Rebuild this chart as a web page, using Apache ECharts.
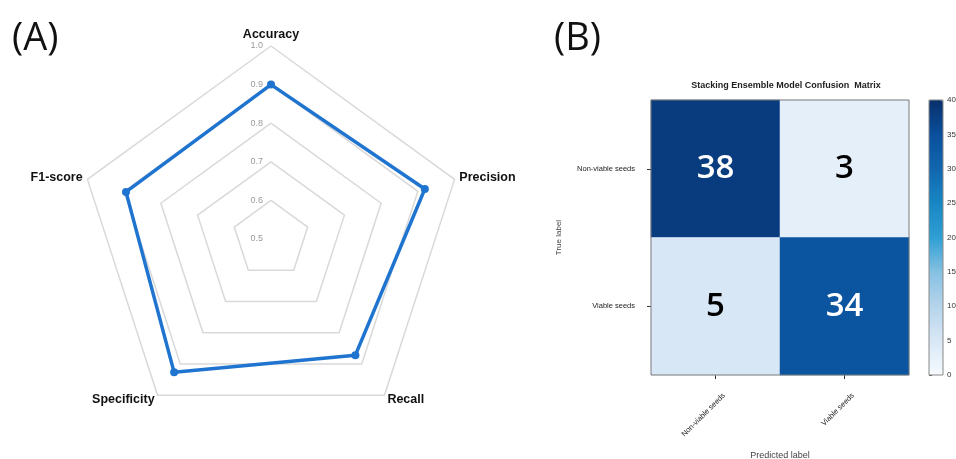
<!DOCTYPE html>
<html>
<head>
<meta charset="utf-8">
<script src="https://cdn.jsdelivr.net/npm/echarts@6/dist/echarts.min.js"></script>
<style>
  html, body { margin: 0; padding: 0; background: #ffffff; }
  #chart { width: 956px; height: 459px; }
</style>
</head>
<body>
<div id="chart"></div>
<script>
// Panel A: model evaluation metrics (radar, listed counter-clockwise from the top)
const metricNames = ['Accuracy', 'F1-score', 'Specificity', 'Recall', 'Precision'];
const metricValues = [0.90, 0.895, 0.927, 0.872, 0.919];
const radarMin = 0.5;
const radarMax = 1.0;
const radarSteps = 5;

// Panel B: confusion matrix (rows = true label, columns = predicted label)
const predictedLabels = ['Non-viable seeds', 'Viable seeds'];
const trueLabels = ['Non-viable seeds', 'Viable seeds'];
const confusionCounts = [
  [38, 3],
  [5, 34]
];
const colorbarMin = 0;
const colorbarMax = 40;
const colorbarStep = 5;

// Blues-like colour ramp used for the heatmap and its colour bar
const bluesRamp = ['#f6fafe', '#d8e7f5', '#b5d4eb', '#86c0e2', '#2e9fd4',
                   '#1886c4', '#1167af', '#0a4f9c', '#08306b'];

const sansFont = '"Liberation Sans", Arial, sans-serif';

const heatData = [];
confusionCounts.forEach(function (row, r) {
  row.forEach(function (v, c) {
    heatData.push({
      value: [c, r, v],
      label: { color: v > (colorbarMax - colorbarMin) / 2 ? '#ffffff' : '#000000' }
    });
  });
});

const chart = echarts.init(document.getElementById('chart'));

chart.setOption({
  backgroundColor: '#ffffff',
  animation: false,
  graphic: [
    { type: 'text', x: 12, y: 39,
      style: { text: '(A)', font: '38px "Open Sans", sans-serif', fill: '#111',
               textVerticalAlign: 'middle' } },
    { type: 'text', x: 554, y: 39,
      style: { text: '(B)', font: '38px "Open Sans", sans-serif', fill: '#111',
               textVerticalAlign: 'middle' } },
    { type: 'text', x: 786, y: 86,
      style: { text: 'Stacking Ensemble Model Confusion  Matrix',
               font: 'bold 9px ' + sansFont, fill: '#222',
               textAlign: 'center', textVerticalAlign: 'middle' } }
  ],
  radar: {
    center: [271, 239],
    radius: 193,
    startAngle: 90,
    splitNumber: radarSteps,
    shape: 'polygon',
    axisNameGap: 5,
    nameGap: 5,
    axisName: { color: '#111', fontWeight: 'bold', fontSize: 12.5, fontFamily: sansFont },
    axisLine: { show: false },
    axisTick: { show: false },
    axisLabel: { show: false },
    splitArea: { show: false },
    splitLine: { lineStyle: { color: '#d9d9d9', width: 1.5 } },
    indicator: metricNames.map(function (name, i) {
      const ind = { name: name, min: radarMin, max: radarMax };
      if (i === 0) {
        ind.axisLabel = {
          show: true, color: '#9a9a9a', fontSize: 9, fontFamily: sansFont,
          margin: 8,
          formatter: function (v) { return Number(v).toFixed(1); }
        };
      }
      return ind;
    })
  },
  grid: [
    { left: 651, top: 100, width: 258, height: 275, show: true,
      outerBoundsMode: 'none', containLabel: false,
      borderColor: '#7a7a7a', borderWidth: 1, backgroundColor: 'transparent', z: 3 },
    { left: 929, top: 100, width: 14, height: 275, show: true,
      outerBoundsMode: 'none', containLabel: false,
      borderColor: '#888888', borderWidth: 1, backgroundColor: 'transparent', z: 6 }
  ],
  xAxis: [
    {
      gridIndex: 0, type: 'category', data: predictedLabels, position: 'bottom',
      axisLine: { show: false },
      axisTick: { show: true, alignWithLabel: true, length: 4, lineStyle: { color: '#333' } },
      axisLabel: { rotate: 45, fontSize: 7.5, color: '#222', fontFamily: sansFont,
                   margin: 28, padding: [0, -12, 0, 0] },
      splitLine: { show: false },
      name: 'Predicted label', nameLocation: 'middle', nameGap: 76,
      nameTextStyle: { fontSize: 9, color: '#444', fontFamily: sansFont }
    },
    { gridIndex: 1, type: 'value', show: false, min: 0, max: 1 }
  ],
  yAxis: [
    {
      gridIndex: 0, type: 'category', data: trueLabels, inverse: true,
      axisLine: { show: false },
      axisTick: { show: true, alignWithLabel: true, length: 4, lineStyle: { color: '#333' } },
      axisLabel: { fontSize: 7.5, color: '#222', fontFamily: sansFont, margin: 16 },
      splitLine: { show: false },
      name: 'True label', nameLocation: 'middle', nameGap: 88, nameRotate: 90,
      nameTextStyle: { fontSize: 8, color: '#444', fontFamily: sansFont }
    },
    {
      gridIndex: 1, type: 'value', position: 'right',
      min: colorbarMin, max: colorbarMax, interval: colorbarStep,
      axisLine: { show: false },
      axisTick: { show: true, length: 3, lineStyle: { color: '#555' } },
      axisLabel: { fontSize: 8, color: '#333', fontFamily: sansFont, margin: 4 },
      splitLine: { show: false }
    }
  ],
  visualMap: {
    type: 'continuous',
    min: colorbarMin,
    max: colorbarMax,
    seriesIndex: 1,
    dimension: 2,
    calculable: false,
    left: 929,
    top: 100,
    itemWidth: 14,
    itemHeight: 275,
    padding: 0,
    text: null,
    inRange: { color: bluesRamp }
  },
  series: [
    {
      type: 'radar',
      symbol: 'circle',
      symbolSize: 8,
      lineStyle: { color: '#1f74cf', width: 3.5 },
      itemStyle: { color: '#1f74cf' },
      data: [{ value: metricValues, name: 'Stacking Ensemble' }]
    },
    {
      type: 'heatmap',
      xAxisIndex: 0,
      yAxisIndex: 0,
      data: heatData,
      label: {
        show: true,
        fontSize: 33,
        fontWeight: 600,
        fontFamily: '"Open Sans", sans-serif',
        formatter: function (p) { return p.value[2]; }
      },
      itemStyle: { borderWidth: 0 }
    }
  ]
});
</script>
</body>
</html>
